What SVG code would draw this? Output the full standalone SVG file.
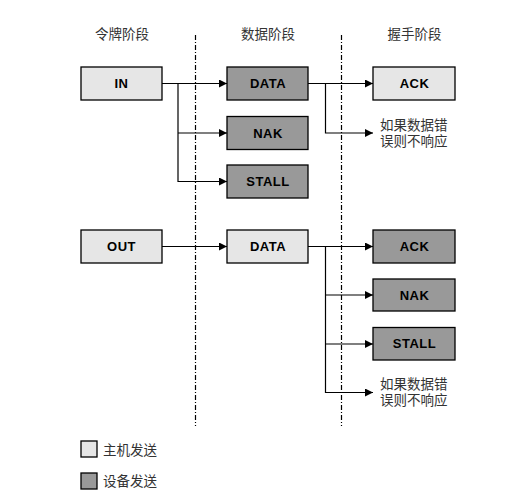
<svg xmlns="http://www.w3.org/2000/svg" width="520" height="503" viewBox="0 0 520 503">
<style>
.host{fill:#e6e6e6;stroke:#000;stroke-width:1.3}
.dev{fill:#999999;stroke:#000;stroke-width:1.3}
.lbl{font-family:"Liberation Sans",Arial,sans-serif;font-weight:bold;font-size:13px;letter-spacing:0.5px;text-anchor:middle;fill:#000}
.cn{font-family:"Noto Sans CJK SC","Liberation Sans",sans-serif;font-size:13.5px;fill:#333}
.title{text-anchor:middle}
.ln{fill:none;stroke:#000;stroke-width:1.2}
.sep{fill:none;stroke:#000;stroke-width:1.2;stroke-dasharray:5 2 1 2}
</style>
<defs>
<marker id="ah" markerUnits="userSpaceOnUse" markerWidth="9" markerHeight="8" refX="8" refY="4" orient="auto">
<path d="M0,0 L8,4 L0,8 z" fill="#000"/>
</marker>
</defs>
<rect width="520" height="503" fill="#fff"/>
<g id="titles">
<text class="cn title" x="122" y="39">令牌阶段</text>
<text class="cn title" x="268" y="39">数据阶段</text>
<text class="cn title" x="414.5" y="39">握手阶段</text>
</g>
<g id="separators">
<line class="sep" x1="195.5" y1="35" x2="195.5" y2="426"/>
<line class="sep" x1="341.5" y1="35" x2="341.5" y2="426"/>
</g>
<g id="connectors">
<path class="ln" d="M162,83.5 H227" marker-end="url(#ah)"/>
<path class="ln" d="M178,83.5 V181.5 H227" marker-end="url(#ah)"/>
<path class="ln" d="M178,133 H227" marker-end="url(#ah)"/>
<path class="ln" d="M308,83.5 H373" marker-end="url(#ah)"/>
<path class="ln" d="M325.5,83.5 V133 H373" marker-end="url(#ah)"/>
<path class="ln" d="M162,246.5 H227" marker-end="url(#ah)"/>
<path class="ln" d="M308,246.5 H373" marker-end="url(#ah)"/>
<path class="ln" d="M325.5,246.5 V392.5 H373" marker-end="url(#ah)"/>
<path class="ln" d="M325.5,295 H373" marker-end="url(#ah)"/>
<path class="ln" d="M325.5,344 H373" marker-end="url(#ah)"/>
</g>
<g id="in">
<rect class="host" x="81" y="67" width="81" height="33"/>
<text class="lbl" x="121.5" y="88">IN</text>
</g>
<g id="data1">
<rect class="dev" x="227" y="67" width="81" height="33"/>
<text class="lbl" x="268" y="88">DATA</text>
</g>
<g id="nak1">
<rect class="dev" x="227" y="116.5" width="81" height="33"/>
<text class="lbl" x="268" y="137.5">NAK</text>
</g>
<g id="stall1">
<rect class="dev" x="227" y="165" width="81" height="33"/>
<text class="lbl" x="268" y="185.8">STALL</text>
</g>
<g id="ack1">
<rect class="host" x="373" y="67" width="82" height="33"/>
<text class="lbl" x="414.5" y="88">ACK</text>
</g>
<g id="noresp1">
<text class="cn" x="380" y="129.5">如果数据错<tspan x="380" dy="16">误则不响应</tspan></text>
</g>
<g id="out">
<rect class="host" x="81" y="230" width="81" height="33"/>
<text class="lbl" x="121.5" y="251">OUT</text>
</g>
<g id="data2">
<rect class="host" x="227" y="230" width="81" height="33"/>
<text class="lbl" x="268" y="251">DATA</text>
</g>
<g id="ack2">
<rect class="dev" x="373" y="230" width="82" height="33"/>
<text class="lbl" x="414.5" y="251">ACK</text>
</g>
<g id="nak2">
<rect class="dev" x="373" y="279" width="82" height="32"/>
<text class="lbl" x="414.5" y="299.5">NAK</text>
</g>
<g id="stall2">
<rect class="dev" x="373" y="327.5" width="82" height="32.5"/>
<text class="lbl" x="414.5" y="348">STALL</text>
</g>
<g id="noresp2">
<text class="cn" x="380" y="388.5">如果数据错<tspan x="380" dy="16">误则不响应</tspan></text>
</g>
<g id="legend">
<rect class="host" x="81" y="441" width="16" height="16"/>
<text class="cn" x="103" y="454.5">主机发送</text>
<rect class="dev" x="81" y="473" width="16" height="16"/>
<text class="cn" x="103" y="486">设备发送</text>
</g>
</svg>
